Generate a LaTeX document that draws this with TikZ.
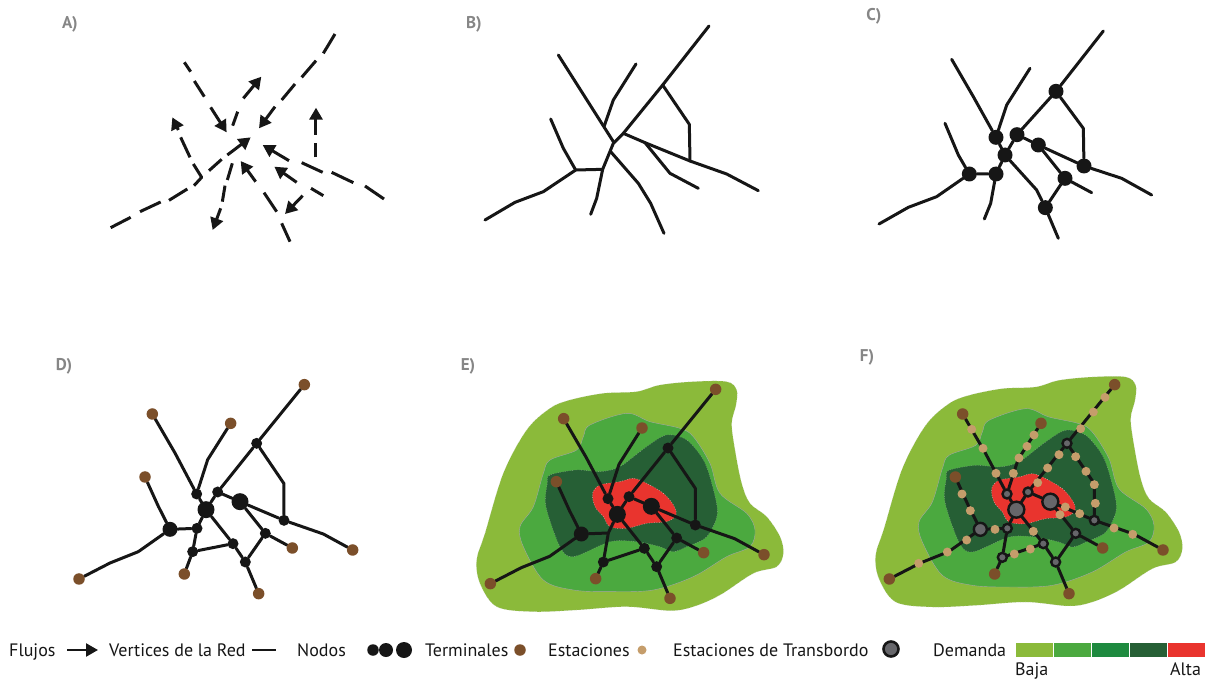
\documentclass[tikz,border=0pt]{standalone}
\usepackage{fontspec}
\setmainfont{PT Sans}
\usetikzlibrary{arrows.meta}
\definecolor{cA}{HTML}{8BBA3A}
\definecolor{cB}{HTML}{4BA93F}
\definecolor{cC}{HTML}{1E8A3F}
\definecolor{cD}{HTML}{265F35}
\definecolor{cE}{HTML}{E9342E}
\definecolor{term}{HTML}{7B4F2A}
\definecolor{stat}{HTML}{C59D6B}
\definecolor{trans}{HTML}{66666A}
\definecolor{ink}{HTML}{161616}
\pgfdeclarelayer{regions}\pgfdeclarelayer{edges}
\pgfsetlayers{regions,edges,main}
\tikzset{
  panel/.style={font=\fontsize{17}{17}\selectfont\bfseries,text=gray!95,anchor=center},
  legend/.style={font=\fontsize{18}{18}\selectfont,text=ink,anchor=base west,inner sep=0},
  net/.style={draw=ink,line width=3pt,line cap=round,line join=round},
  dashseg/.style={draw=ink,line width=3pt,line join=round},
  flow/.style={dashseg,-{Triangle[length=12pt,width=13pt]}},
  dot/.style={circle,inner sep=0,fill=ink},
  tnode/.style={circle,inner sep=0,fill=term,minimum size=11.5pt},
  snode/.style={circle,inner sep=0,fill=stat,minimum size=9pt},
  ring/.style={circle,inner sep=0,fill=trans,draw=ink,line width=2.4pt},
  regA/.style={fill=cA,draw=gray!45,dotted,line width=.5pt},
  regB/.style={fill=cB,draw=gray!70,line width=.4pt},
  regD/.style={fill=cD,draw=gray!60,dotted,line width=.4pt},
  regE/.style={fill=cE,draw=gray!30,dotted,line width=.5pt},
  swatch/.style={fill=#1,draw=white,line width=.6pt,minimum width=38pt,minimum height=15pt,inner sep=0}
}
\newcommand{\regionset}{%
 \begin{pgfonlayer}{regions}
 \path[regA] plot[smooth cycle,tension=.55] coordinates {(270,175)(330,150)(430,130)(530,125)(600,105)(700,95)(800,95)(830,120)(828,165)(815,220)(825,300)(845,400)(870,460)(920,500)(960,560)(970,610)(950,650)(880,670)(780,735)(700,770)(630,782)(500,770)(350,780)(220,785)(110,770)(60,700)(50,630)(75,550)(130,370)(200,240)};
 \path[regB] plot[smooth cycle,tension=.55] coordinates {(390,225)(500,190)(570,215)(660,235)(700,260)(750,340)(780,430)(860,490)(885,540)(870,590)(800,620)(700,680)(580,720)(450,725)(340,720)(250,690)(190,590)(180,530)(220,470)(250,370)(270,330)(350,300)(370,260)};
 \path[regD] plot[smooth cycle,tension=.5] coordinates {(270,375)(350,360)(420,365)(480,350)(560,290)(620,255)(680,270)(730,330)(755,400)(772,490)(740,560)(680,590)(640,605)(600,590)(530,575)(450,575)(340,620)(300,590)(258,470)(262,400)};
 \path[regE] plot[smooth cycle,tension=.55] coordinates {(420,405)(480,395)(520,385)(560,400)(610,430)(640,465)(648,495)(620,515)(560,520)(500,535)(450,530)(430,500)(405,470)(398,430)};
 \end{pgfonlayer}}
% #1 prefix, #2 position of node N9
\newcommand{\network}[2]{%
 \node[tnode] (#1T1) at (767,118) {};
 \node[tnode] (#1T2) at (311,206) {};
 \node[tnode] (#1T3) at (546,234) {};
 \node[tnode] (#1T4) at (289,395) {};
 \node[tnode] (#1T5) at (91,701) {};
 \node[tnode] (#1T6) at (407,686) {};
 \node[tnode] (#1T7) at (630,745) {};
 \node[tnode] (#1T8) at (731,608) {};
 \node[tnode] (#1T9) at (912,614) {};
 \node[nsmall] (#1N1) at (624,294) {};
 \node[nsmall] (#1N2) at (444,446) {};
 \node[nsmall] (#1N3) at (507,440) {};
 \node[nlarge] (#1N4) at (472,493) {};
 \node[nlarge] (#1N5) at (574,469) {};
 \node[nsmall] (#1N6) at (706,525) {};
 \node[nmedium] (#1N7) at (364,552) {};
 \node[nmid] (#1N8) at (445,549) {};
 \node[nsmall] (#1N9) at #2 {};
 \node[nsmall] (#1N10) at (553,595) {};
 \node[nsmall] (#1N11) at (650,564) {};
 \node[nsmall] (#1N12) at (590,650) {};
 \coordinate (#1B1) at (706,415);
 \coordinate (#1B2) at (824,566);
 \coordinate (#1B3) at (269,619);
 \coordinate (#1B4) at (184,653);
 \coordinate (#1B5) at (329,483);
 \coordinate (#1B6) at (379,323);
 \coordinate (#1B7) at (477,343);
 \begin{pgfonlayer}{edges}
 \draw[net] (#1T1)--(#1N1)--(#1N3)--(#1N4)--(#1N2);
 \draw[net] (#1N3)--(#1N5)--(#1N6)--(#1B1)--(#1N1);
 \draw[net] (#1N6)--(#1B2)--(#1T9);
 \draw[net] (#1N7)--(#1B3)--(#1B4)--(#1T5);
 \draw[net] (#1N7)--(#1B5)--(#1T4);
 \draw[net] (#1N2)--(#1B6)--(#1T2);
 \draw[net] (#1N2)--(#1B7)--(#1T3);
 \draw[net] (#1N7)--(#1N8)--(#1N4)--(#1N10)--(#1N12)--(#1N11)--(#1N5);
 \draw[net] (#1N8)--(#1N9)--(#1T6);
 \draw[net] (#1N9)--(#1N10);
 \draw[net] (#1N11)--(#1T8);
 \draw[net] (#1N12)--(#1T7);
 \end{pgfonlayer}}
\begin{document}
\begin{tikzpicture}[x=1pt,y=-1pt]
\useasboundingbox (0,0) rectangle (1211,680);
% panel labels
\node[panel] (la) at (70,24) {A)};
\node[panel] (lb) at (474,24) {B)};
\node[panel] (lc) at (874,16) {C)};
\node[panel] (ld) at (64,366) {D)};
\node[panel] (le) at (468,366) {E)};
\node[panel] (lf) at (867,357) {F)};
% A
\begin{scope}[shift={(90,20)},scale=.33333]
\draw[dashseg] (283,127)--(302,155);
\draw[dashseg] (313,183)--(343,230);
\draw[flow] (362,262)--(410,337);
\draw[dashseg] (428,317)--(443,275);
\draw[flow] (460,235)--(514,170);
\draw[dashseg] (735,42)--(700,100);
\draw[dashseg] (678,122)--(635,172);
\draw[dashseg] (615,192)--(575,240);
\draw[flow] (555,260)--(507,325);
\draw[dashseg] (678,412)--(678,370);
\draw[flow] (678,345)--(678,263);
\draw[dashseg] (882,537)--(825,498);
\draw[dashseg] (790,488)--(725,457);
\draw[dashseg] (698,457)--(635,428);
\draw[flow] (597,422)--(518,375);
\draw[dashseg] (700,527)--(663,505);
\draw[flow] (620,487)--(553,440);
\draw[flow] (638,527)--(585,582);
\draw[dashseg] (600,665)--(575,610);
\draw[dashseg] (560,575)--(522,518);
\draw[flow] (497,485)--(452,423);
\draw[dashseg] (427,430)--(412,480);
\draw[dashseg] (405,497)--(397,545);
\draw[flow] (392,565)--(368,630);
\draw[dashseg] (62,623)--(122,592);
\draw[dashseg] (150,575)--(212,546);
\draw[dashseg] (237,541)--(292,507);
\draw[dashseg] (312,497)--(335,472)--(310,432);
\draw[dashseg] (300,412)--(272,352);
\draw[flow] (265,330)--(247,292);
\draw[dashseg] (357,452)--(395,418);
\draw[flow] (412,405)--(482,352);
\end{scope}
% B
\begin{scope}[shift={(460,20)},scale=.33333]
\draw[net] (295,105)--(462,368);
\draw[net] (452,395)--(535,490)--(572,550)--(612,640);
\draw[net] (528,132)--(460,240)--(432,320);
\draw[net] (747,18)--(608,195)--(490,340)--(460,370)--(428,448)--(410,535)--(392,583);
\draw[net] (272,297)--(310,385)--(347,450)--(428,448);
\draw[net] (75,600)--(165,547)--(250,515)--(347,450);
\draw[net] (490,340)--(555,368)--(690,423)--(800,462)--(895,512);
\draw[net] (608,195)--(688,313)--(690,423);
\draw[net] (555,368)--(630,460)--(715,505);
\end{scope}
% C
\begin{scope}[shift={(860,20)},scale=.33333]
\tikzset{cn/.style={dot,minimum size=15pt}}
\node[cn] (c1) at (588,214) {};
\node[cn] (c2) at (408,352) {};
\node[cn] (c3) at (471,344) {};
\node[cn] (c4) at (435,405) {};
\node[cn] (c5) at (535,375) {};
\node[cn] (c6) at (672,438) {};
\node[cn] (c7) at (328,462) {};
\node[cn] (c8) at (408,462) {};
\node[cn] (c9) at (615,475) {};
\node[cn] (c10) at (556,563) {};
\begin{pgfonlayer}{edges}
\draw[net] (730,33)--(c1)--(c3)--(c4)--(c2);
\draw[net] (c4)--(c8)--(c7);
\draw[net] (c4)--(530,510)--(c10)--(c9)--(c5)--(c3);
\draw[net] (c5)--(c6);
\draw[net] (c1)--(670,325)--(c6);
\draw[net] (c6)--(785,475)--(875,525);
\draw[net] (c9)--(695,518);
\draw[net] (c10)--(595,655);
\draw[net] (c8)--(392,550)--(373,597);
\draw[net] (c7)--(295,405)--(255,310);
\draw[net] (c7)--(230,530)--(145,562)--(57,612);
\draw[net] (c2)--(340,230)--(275,118);
\draw[net] (c2)--(440,255)--(510,145);
\end{pgfonlayer}
\end{scope}
% D
\begin{scope}[shift={(48.67,345.33)},scale=.33333]
\tikzset{nsmall/.style={dot,minimum size=11pt},nlarge/.style={dot,minimum size=17pt},nmedium/.style={dot,minimum size=15pt},nmid/.style={dot,minimum size=11pt}}
\network{d}{(432,619)}
\end{scope}
% E
\begin{scope}[shift={(460,350)},scale=.33333]
\tikzset{nsmall/.style={dot,minimum size=11pt},nlarge/.style={dot,minimum size=17pt},nmedium/.style={dot,minimum size=15pt},nmid/.style={inner sep=0,minimum size=0pt}}
\regionset
\network{e}{(430,636)}
\end{scope}
% F
\begin{scope}[shift={(859,345.33)},scale=.33333]
\tikzset{nsmall/.style={ring,minimum size=9pt},nlarge/.style={ring,minimum size=16pt},nmedium/.style={ring,minimum size=13pt},nmid/.style={ring,minimum size=9pt}}
\regionset
\network{f}{(430,636)}
\end{scope}
\begin{scope}[shift={(860,350)},scale=.33333]
\foreach \i/\p in {1/{(735,142)},2/{(700,186)},3/{(662,236)},4/{(597,314)},5/{(563,354)},6/{(533,398)},7/{(647,320)},8/{(678,364)},9/{(703,404)},10/{(706,460)},11/{(616,471)},12/{(659,491)},13/{(600,494)},14/{(762,534)},15/{(818,553)},16/{(335,238)},17/{(369,295)},18/{(408,370)},19/{(522,255)},20/{(501,289)},21/{(477,324)},22/{(460,370)},23/{(306,432)},24/{(331,482)},25/{(405,538)},26/{(320,570)},27/{(262,606)},28/{(176,640)},29/{(520,544)},30/{(463,612)},31/{(511,597)}}
  \node[snode] (s\i) at \p {};
\end{scope}
% legend
\node[legend] (t1) at (9,656) {Flujos};
\coordinate (a0) at (67,650); \coordinate (a1) at (98,650);
\draw[draw=ink,line width=2.4pt,-{Triangle[length=12pt,width=13pt]}] (a0)--(a1);
\node[legend] (t2) at (109,656) {Vertices de la Red};
\coordinate (v0) at (252,650); \coordinate (v1) at (276,650);
\draw[draw=ink,line width=2.4pt] (v0)--(v1);
\node[legend] (t3) at (297,656) {Nodos};
\node[dot,minimum size=11.5pt] (l1) at (373,650) {};
\node[dot,minimum size=14pt] (l2) at (386,650) {};
\node[dot,minimum size=16pt] (l3) at (404,650) {};
\node[legend] (t4) at (425,656) {Terminales};
\node[tnode] (l4) at (520,650) {};
\node[legend] (t5) at (548,656) {Estaciones};
\node[snode] (l5) at (642,650) {};
\node[legend] (t6) at (673,656) {Estaciones de Transbordo};
\node[ring,minimum size=15pt,line width=2.6pt] (l6) at (891,649) {};
\node[legend] (t7) at (933,656) {Demanda};
\node[swatch=cA] (b1) at (1034,649.5) {};
\node[swatch=cB] (b2) at (1072,649.5) {};
\node[swatch=cC] (b3) at (1110,649.5) {};
\node[swatch=cD] (b4) at (1148,649.5) {};
\node[swatch=cE] (b5) at (1186,649.5) {};
\node[legend] (t8) at (1015,675.5) {Baja};
\node[legend] (t9) at (1170,675.5) {Alta};
\end{tikzpicture}
\end{document}
